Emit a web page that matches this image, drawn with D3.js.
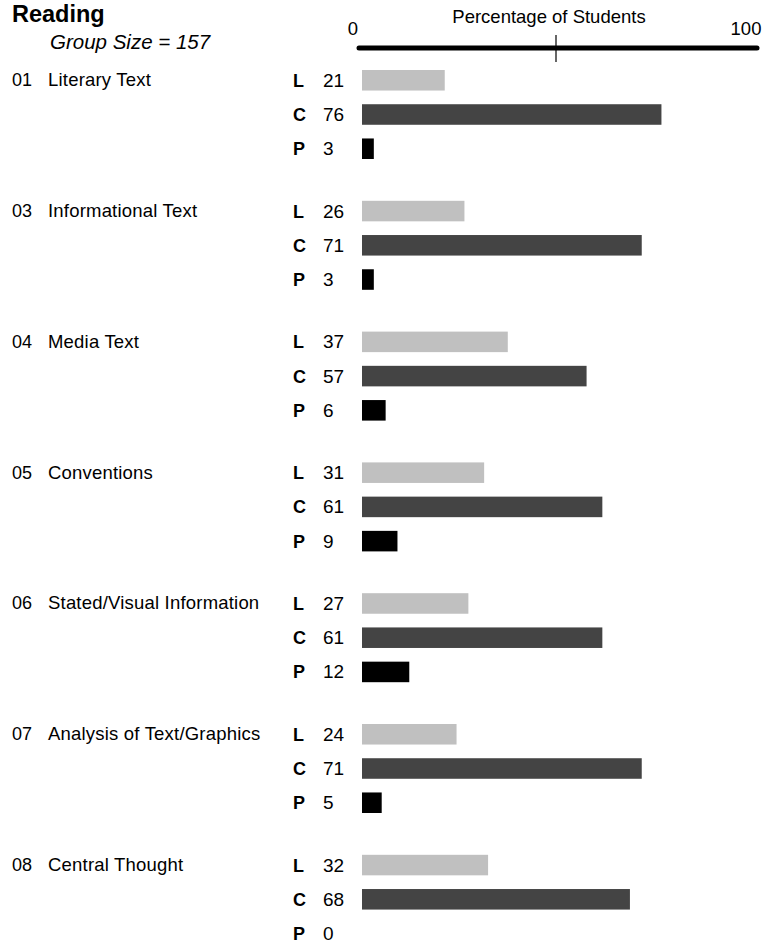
<!DOCTYPE html>
<html><head><meta charset="utf-8">
<script src="https://cdn.jsdelivr.net/npm/d3@7"></script>
<style>
body{margin:0;background:#fff;}
text{font-family:"Liberation Sans",Arial,Helvetica,sans-serif;fill:#000;}
.num{font-family:"Liberation Sans Narrow","Liberation Sans",Arial,sans-serif;}
</style></head>
<body>
<script>
const codes = ["01","03","04","05","06","07","08"];
const categories = ["Literary Text","Informational Text","Media Text","Conventions","Stated/Visual Information","Analysis of Text/Graphics","Central Thought"];
const levels = ["L","C","P"];
const valuesL = [21,26,37,31,27,24,32];
const valuesC = [76,71,57,61,61,71,68];
const valuesP = [3,3,6,9,12,5,0];
const tickLabels = ["0","100"];
const colors = {L:"#c0c0c0", C:"#444444", P:"#000000"};

const W=766,H=944;
const svg=d3.select("body").append("svg").attr("width",W).attr("height",H);

const x=d3.scaleLinear().domain([0,100]).range([362,756]);
const y=d3.scaleBand().domain(categories).range([70,70+130.8*7]).paddingInner(0).paddingOuter(0);
const row=d3.scaleBand().domain(levels).range([0,89]).paddingInner(0.40).paddingOuter(0);

svg.append("text").attr("x",12).attr("y",22).attr("font-size",23.5).attr("font-weight","bold").text("Reading");
svg.append("text").attr("x",50).attr("y",49).attr("font-size",20.5).attr("font-style","italic").text("Group Size = 157");

// axis
svg.append("line").attr("x1",x(0)-3).attr("x2",x(100)+1).attr("y1",48).attr("y2",48)
  .attr("stroke","#000").attr("stroke-width",5).attr("stroke-linecap","round");
svg.append("line").attr("x1",x(50)-3).attr("x2",x(50)-3).attr("y1",35).attr("y2",62).attr("stroke","#000").attr("stroke-width",1.2);
svg.append("text").attr("x",x(0)-9).attr("y",35).attr("text-anchor","middle").attr("font-size",18.5).text(tickLabels[0]);
svg.append("text").attr("x",x(100)-10).attr("y",35).attr("text-anchor","middle").attr("font-size",18.5).text(tickLabels[1]);
svg.append("text").attr("x",549).attr("y",23).attr("text-anchor","middle").attr("font-size",18.5).text("Percentage of Students");

const data = categories.map((c,i)=>({code:codes[i], cat:c, vals:{L:valuesL[i],C:valuesC[i],P:valuesP[i]}}));

const g=svg.selectAll("g.grp").data(data).join("g").attr("class","grp")
  .attr("transform",d=>`translate(0,${y(d.cat)})`);

const lblY = row("L")+row.bandwidth()/2+6;
g.append("text").attr("x",12).attr("y",lblY).attr("font-size",18).text(d=>d.code);
g.append("text").attr("x",48).attr("y",lblY).attr("font-size",18.5).attr("letter-spacing",0.2).text(d=>d.cat);

levels.forEach(l=>{
  const ty=row(l)+row.bandwidth()/2+6.5;
  g.append("text").attr("x",293).attr("y",ty).attr("font-size",18).attr("font-weight","bold").text(l);
  g.append("text").attr("class","num").attr("x",323).attr("y",ty).attr("font-size",19).text(d=>d.vals[l]);
  g.append("rect").attr("x",x(0)).attr("y",row(l)).attr("height",row.bandwidth())
    .attr("width",d=>x(d.vals[l])-x(0)).attr("fill",colors[l]);
});
</script>
</body></html>
